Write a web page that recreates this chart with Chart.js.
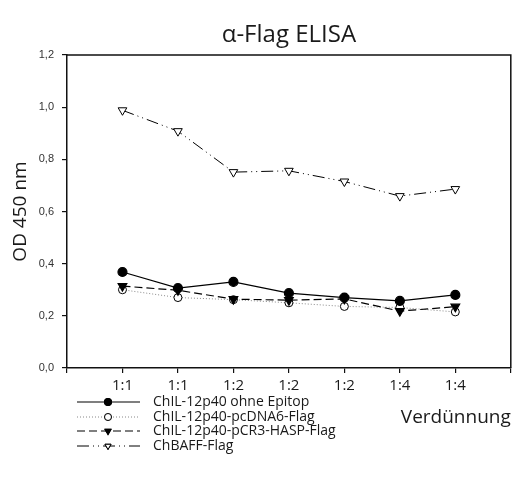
<!DOCTYPE html>
<html>
<head>
<meta charset="utf-8">
<script src="https://cdn.jsdelivr.net/npm/chart.js@4"></script>
<style>
  html, body { margin: 0; padding: 0; background: #fff; }
  #wrap { width: 517px; height: 479px; }
</style>
</head>
<body>
<div id="wrap"><canvas id="elisa-chart" width="517" height="479"></canvas></div>
<script>
// Data
const dilutions = ['1:1', '1:1', '1:2', '1:2', '1:2', '1:4', '1:4'];
const seriesNames = ['ChIL-12p40 ohne Epitop', 'ChIL-12p40-pcDNA6-Flag', 'ChIL-12p40-pCR3-HASP-Flag', 'ChBAFF-Flag'];
const ohneEpitop = [0.368, 0.306, 0.330, 0.287, 0.270, 0.257, 0.280];
const pcDNA6 = [0.300, 0.270, 0.262, 0.250, 0.236, 0.232, 0.215];
const pCR3 = [0.314, 0.298, 0.264, 0.260, 0.265, 0.218, 0.235];
const chBAFF = [0.988, 0.908, 0.751, 0.756, 0.715, 0.659, 0.686];
const yTicks = [0, 0.2, 0.4, 0.6, 0.8, 1.0, 1.2];
const chartTitle = 'α-Flag ELISA';

const toPoints = vals => vals.map((v, i) => ({ x: i + 1, y: v }));

// title over the plot, frame (top + right border) and legend below the plot
const framePlugin = {
    id: 'frame',
    afterDraw(chart) {
        const { ctx, chartArea: a } = chart;
        ctx.save();
        ctx.fillStyle = '#1a1a1a';
        ctx.font = '24px "Open Sans"';
        ctx.textAlign = 'center';
        ctx.textBaseline = 'middle';
        ctx.fillText(chartTitle, (a.left + a.right) / 2, 35);

        ctx.strokeStyle = '#111';
        ctx.lineWidth = 1.5;
        ctx.beginPath();
        ctx.moveTo(a.left, a.top);
        ctx.lineTo(a.right, a.top);
        ctx.lineTo(a.right, a.bottom);
        ctx.stroke();

        // legend
        const rows = [402, 417, 431, 446];
        chart.data.datasets.forEach((ds, i) => {
            const y = rows[i];
            ctx.strokeStyle = ds.borderColor;
            ctx.lineWidth = ds.borderWidth;
            ctx.setLineDash(ds.borderDash || []);
            ctx.beginPath();
            ctx.moveTo(77, y);
            ctx.lineTo(140, y);
            ctx.stroke();
            ctx.setLineDash([]);
            Chart.helpers.drawPoint(ctx, {
                pointStyle: ds.pointStyle,
                rotation: ds.pointRotation || 0,
                radius: 3.5,
                borderWidth: 1
            }, 108, y);
            ctx.fillStyle = ds.pointBackgroundColor;
            ctx.strokeStyle = '#000';
            ctx.lineWidth = 1;
            ctx.fill();
            ctx.stroke();
            ctx.fillStyle = '#1a1a1a';
            ctx.font = '14px "Open Sans"';
            ctx.textBaseline = 'middle';
            ctx.textAlign = 'left';
            ctx.fillText(seriesNames[i], 153, y);
        });
        ctx.restore();
    }
};

const ctxElisa = document.getElementById('elisa-chart').getContext('2d');
const elisaChart = new Chart(ctxElisa, {
    type: 'line',
    data: {
        datasets: [
            {
                label: seriesNames[0],
                data: toPoints(ohneEpitop),
                borderColor: '#000',
                borderWidth: 1.2,
                pointStyle: 'circle',
                pointRadius: 4.5,
                pointBackgroundColor: '#000',
                pointBorderColor: '#000',
                order: 0,
            },
            {
                label: seriesNames[1],
                data: toPoints(pcDNA6),
                borderColor: '#888',
                borderWidth: 1,
                borderDash: [1, 2],
                pointStyle: 'circle',
                pointRadius: 4,
                pointBackgroundColor: '#fff',
                pointBorderColor: '#000',
                pointBorderWidth: 1,
                order: 2,
            },
            {
                label: seriesNames[2],
                data: toPoints(pCR3),
                borderColor: '#000',
                borderWidth: 1.2,
                borderDash: [8, 4],
                pointStyle: 'triangle',
                pointRotation: 180,
                pointRadius: 5,
                pointBackgroundColor: '#000',
                pointBorderColor: '#000',
                order: 1,
            },
            {
                label: seriesNames[3],
                data: toPoints(chBAFF),
                borderColor: '#000',
                borderWidth: 1,
                borderDash: [12, 4, 1, 4, 1, 4],
                pointStyle: 'triangle',
                pointRotation: 180,
                pointRadius: 5,
                pointBackgroundColor: '#fff',
                pointBorderColor: '#000',
                pointBorderWidth: 1,
                order: 3,
            },
        ],
    },
    options: {
        responsive: false,
        animation: false,
        layout: { padding: { top: 55, right: 2, bottom: 50, left: 0 } },
        plugins: {
            legend: { display: false },
            tooltip: { enabled: false },
            title: { display: false },
        },
        scales: {
            x: {
                type: 'linear',
                min: 0,
                max: 8,
                afterFit: s => { s.height = 61; },
                border: { display: true, color: '#111', width: 1.5 },
                grid: { drawOnChartArea: false, drawTicks: true, tickLength: 5, color: '#111', lineWidth: 1.2 },
                ticks: {
                    stepSize: 1,
                    autoSkip: false,
                    maxRotation: 0,
                    padding: 4,
                    color: '#1a1a1a',
                    font: { family: 'Open Sans', size: 15 },
                    callback: v => dilutions[v - 1] || '',
                },
                title: {
                    display: true,
                    text: 'Verdünnung',
                    align: 'end',
                    color: '#1a1a1a',
                    font: { family: 'Open Sans', size: 19 },
                    padding: { top: 0, bottom: 0 },
                },
            },
            y: {
                min: 0,
                max: 1.2,
                afterFit: s => { s.width = 67; },
                afterBuildTicks: s => { s.ticks = yTicks.map(v => ({ value: v })); },
                border: { display: true, color: '#111', width: 1.5 },
                grid: { drawOnChartArea: false, drawTicks: true, tickLength: 5, color: '#111', lineWidth: 1.2 },
                ticks: {
                    padding: 8,
                    color: '#333',
                    font: { family: 'Liberation Sans', size: 11 },
                    callback: v => v.toFixed(1).replace('.', ','),
                },
                title: {
                    display: true,
                    text: 'OD 450 nm',
                    color: '#1a1a1a',
                    font: { family: 'Open Sans', size: 19 },
                    padding: { top: 9, bottom: 0 },
                },
            },
        },
    },
    plugins: [framePlugin],
});
</script>
</body>
</html>
